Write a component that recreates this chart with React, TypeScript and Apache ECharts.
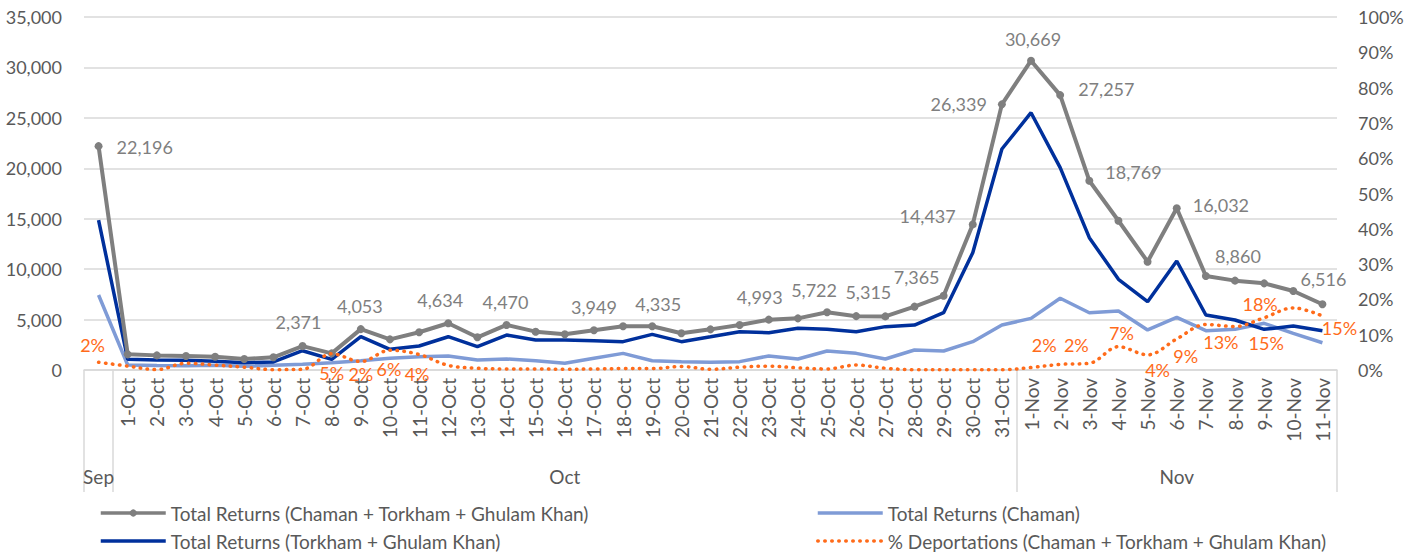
import React, { useEffect, useRef } from "react";
import * as echarts from "echarts";

const dayLabels = [
  "", "1-Oct", "2-Oct", "3-Oct", "4-Oct", "5-Oct", "6-Oct", "7-Oct", "8-Oct", "9-Oct", "10-Oct",
  "11-Oct", "12-Oct", "13-Oct", "14-Oct", "15-Oct", "16-Oct", "17-Oct", "18-Oct", "19-Oct", "20-Oct",
  "21-Oct", "22-Oct", "23-Oct", "24-Oct", "25-Oct", "26-Oct", "27-Oct", "28-Oct", "29-Oct", "30-Oct",
  "31-Oct", "1-Nov", "2-Nov", "3-Nov", "4-Nov", "5-Nov", "6-Nov", "7-Nov", "8-Nov", "9-Nov", "10-Nov",
  "11-Nov",
];
const monthNames = ["Sep", "Oct", "Nov"];
const monthSpans = [1, 31, 11];

const totalReturns = [
  22196, 1550, 1450, 1390, 1320, 1090, 1260, 2371, 1650, 4053, 3040,
  3740, 4634, 3240, 4470, 3800, 3540, 3949, 4330, 4335, 3640,
  4030, 4460, 4993, 5120, 5722, 5340, 5315, 6280, 7365, 14437,
  26339, 30669, 27257, 18769, 14800, 10740, 16032, 9320, 8860, 8590, 7830,
  6516,
];
const chamanReturns = [
  7440, 500, 450, 420, 460, 360, 460, 560, 720, 920, 1160,
  1320, 1390, 990, 1090, 920, 660, 1160, 1650, 920, 830,
  760, 830, 1390, 1090, 1880, 1650, 1090, 1980, 1880, 2810,
  4460, 5120, 7110, 5680, 5850, 3970, 5220, 3900, 4030, 4630, 3630,
  2700,
];
const torkhamGhulamReturns = [
  14870, 1060, 1000, 970, 860, 730, 800, 1910, 1060, 3300, 2050,
  2380, 3300, 2310, 3470, 2970, 2970, 2900, 2810, 3530, 2810,
  3300, 3800, 3700, 4130, 4030, 3800, 4300, 4460, 5680, 11630,
  21910, 25510, 20060, 13120, 8990, 6770, 10810, 5450, 4960, 4030, 4360,
  3900,
];
const deportationPct = [
  2.2, 1.1, 0.1, 1.9, 1.4, 0.8, 0.1, 0.2, 4.6, 2.4, 5.6,
  4.4, 1.3, 0.5, 0.3, 0.3, 0.2, 0.3, 0.4, 0.4, 1.0,
  0.2, 0.8, 1.1, 0.6, 0.3, 1.4, 0.5, 0.1, 0.1, 0.1,
  0.1, 0.7, 1.6, 1.9, 6.6, 4.3, 8.8, 12.9, 12.3, 14.8, 17.6,
  15.3,
];

const seriesNames = [
  "Total Returns (Chaman + Torkham + Ghulam Khan)",
  "Total Returns (Chaman)",
  "Total Returns (Torkham + Ghulam Khan)",
  "% Deportations (Chaman + Torkham + Ghulam Khan)",
];

// label placement (styling only): [position, distance, dx, dy]
const totalLabelPlacement: Record<number, [string, number, number, number]> = {
  0: ["right", 14, 0, 1],
  7: ["top", 11, -4, 0],
  9: ["top", 10, -1, 0],
  12: ["top", 10, -8, 0],
  14: ["top", 10, -1, 0],
  17: ["top", 10, 0, 0],
  19: ["top", 9, 6, 0],
  23: ["top", 10, -9, 0],
  25: ["top", 9, -13, 0],
  27: ["top", 11, -17, 0],
  29: ["top", 6, -27, 0],
  30: ["left", 13, 0, -8],
  31: ["left", 11, 0, 0],
  32: ["top", 9, 2, 0],
  33: ["right", 14, 0, -6],
  34: ["right", 12, 0, -9],
  37: ["right", 12, 0, -3],
  39: ["top", 12, 3, 0],
  42: ["top", 12, 1, 0],
};
const pctLabelPlacement: Record<number, [string, number, number, number]> = {
  0: ["top", 8, -6, 0],
  8: ["bottom", 10, 0, 0],
  9: ["bottom", 3, 0, 0],
  10: ["bottom", 9, -1, 0],
  11: ["bottom", 10, -2, 0],
  33: ["top", 10, -16, 0],
  34: ["top", 9, -13, 0],
  35: ["top", 4, 3, 0],
  36: ["bottom", 6, 10, 0],
  37: ["bottom", 8, 9, 0],
  38: ["bottom", 8, 15, 0],
  40: ["bottom", 16, 2, 0],
  41: ["left", 15, 0, -4],
  42: ["bottom", 3, 17, 0],
};

const FONT = "Lato, 'Open Sans', sans-serif";
const TEXT = "#595959";
const GRID = "#d9d9d9";
const GRAY = "#7f7f7f";
const DARK_BLUE = "#00309c";
const LIGHT_BLUE = "#7f9bd6";
const ORANGE = "#ff6b1a";

export default function App() {
  const ref = useRef<HTMLDivElement>(null);

  useEffect(() => {
    if (!ref.current) return;
    const chart = echarts.init(ref.current, null, { renderer: "svg" });

    const monthLabels: string[] = [];
    const monthStarts: number[] = [];
    monthNames.forEach((m, k) => {
      monthStarts.push(monthLabels.length);
      for (let j = 0; j < monthSpans[k]; j++) {
        monthLabels.push(j === Math.floor(monthSpans[k] / 2) ? m : "");
      }
    });

    const totalData = totalReturns.map((v, i) => {
      const p = totalLabelPlacement[i];
      if (!p) return v;
      return {
        value: v,
        label: {
          show: true,
          position: p[0],
          distance: p[1],
          offset: [p[2], p[3]],
          formatter: (d: any) => Number(d.value).toLocaleString("en-US"),
        },
      };
    });

    const pctData = deportationPct.map((v, i) => {
      const p = pctLabelPlacement[i];
      if (!p) return v;
      return {
        value: v,
        symbol: "circle",
        symbolSize: 1,
        itemStyle: { color: "rgba(0,0,0,0)" },
        label: {
          show: true,
          opacity: 1,
          position: p[0],
          distance: p[1],
          offset: [p[2], p[3]],
          formatter: (d: any) => Math.round(Number(d.value)) + "%",
        },
      };
    });

    const hiddenSymbol = { opacity: 0, color: "rgba(0,0,0,0)", borderWidth: 0 };

    const legendCommon = {
      orient: "vertical",
      top: 501,
      height: 60,
      padding: 0,
      itemWidth: 65,
      itemHeight: 9,
      itemGap: 4,
      lineStyle: { width: 3.5 },
      textStyle: { fontFamily: FONT, fontSize: 19, color: TEXT, lineHeight: 24 },
    };

    chart.setOption({
      animation: false,
      textStyle: { fontFamily: FONT },
      grid: { left: 84, right: 79, top: 17, bottom: 183, containLabel: false },
      legend: [
        {
          ...legendCommon,
          left: 99,
          data: [
            { name: seriesNames[0] },
            { name: seriesNames[2], itemStyle: hiddenSymbol },
          ],
        },
        {
          ...legendCommon,
          left: 816,
          data: [
            { name: seriesNames[1], itemStyle: hiddenSymbol },
            { name: seriesNames[3], itemStyle: hiddenSymbol },
          ],
        },
      ],
      xAxis: [
        {
          type: "category",
          data: dayLabels,
          position: "bottom",
          boundaryGap: true,
          axisLine: { show: true, lineStyle: { color: GRID, width: 1.5 } },
          axisTick: { show: false },
          axisLabel: {
            interval: 0,
            rotate: 90,
            margin: 8,
            color: TEXT,
            fontFamily: FONT,
            fontSize: 19,
          },
          splitLine: { show: false },
        },
        {
          type: "category",
          data: monthLabels,
          position: "bottom",
          boundaryGap: true,
          axisLine: { show: false },
          axisTick: {
            show: true,
            length: 122,
            interval: (index: number) => monthStarts.includes(index),
            lineStyle: { color: GRID, width: 1.5 },
          },
          axisLabel: {
            interval: 0,
            margin: 97,
            color: TEXT,
            fontFamily: FONT,
            fontSize: 19,
          },
          splitLine: { show: false },
        },
      ],
      yAxis: [
        {
          type: "value",
          min: 0,
          max: 35000,
          interval: 5000,
          axisLine: { show: false },
          axisTick: { show: false },
          axisLabel: {
            margin: 22,
            color: TEXT,
            fontFamily: FONT,
            fontSize: 18,
            formatter: (v: number) => v.toLocaleString("en-US"),
          },
          splitLine: { lineStyle: { color: GRID, width: 1.5 } },
        },
        {
          type: "value",
          min: 0,
          max: 100,
          interval: 10,
          position: "right",
          axisLine: { show: false },
          axisTick: { show: false },
          axisLabel: {
            margin: 21,
            color: TEXT,
            fontFamily: FONT,
            fontSize: 18,
            formatter: "{value}%",
          },
          splitLine: { show: false },
        },
      ],
      series: [
        {
          name: seriesNames[0],
          type: "line",
          data: totalData,
          xAxisIndex: 0,
          yAxisIndex: 0,
          symbol: "circle",
          symbolSize: 8,
          color: GRAY,
          itemStyle: { color: GRAY },
          lineStyle: { color: GRAY, width: 4 },
          label: { color: GRAY, fontFamily: FONT, fontSize: 18 },
          z: 4,
        },
        {
          name: seriesNames[1],
          type: "line",
          data: chamanReturns,
          xAxisIndex: 0,
          yAxisIndex: 0,
          symbol: "none",
          color: LIGHT_BLUE,
          lineStyle: { color: LIGHT_BLUE, width: 3.5 },
          z: 2,
        },
        {
          name: seriesNames[2],
          type: "line",
          data: torkhamGhulamReturns,
          xAxisIndex: 0,
          yAxisIndex: 0,
          symbol: "none",
          color: DARK_BLUE,
          lineStyle: { color: DARK_BLUE, width: 3.5 },
          z: 3,
        },
        {
          name: seriesNames[3],
          type: "line",
          data: pctData,
          xAxisIndex: 0,
          yAxisIndex: 1,
          symbol: "none",
          smooth: 0.35,
          color: ORANGE,
          lineStyle: { color: ORANGE, width: 3.5, type: [0.5, 6.5], cap: "round" },
          label: { color: ORANGE, fontFamily: FONT, fontSize: 18, opacity: 1 },
          z: 5,
        },
      ],
    });

    return () => chart.dispose();
  }, []);

  return (
    <div
      ref={ref}
      style={{ position: "absolute", left: 0, top: 0, width: 1416, height: 553 }}
    />
  );
}
